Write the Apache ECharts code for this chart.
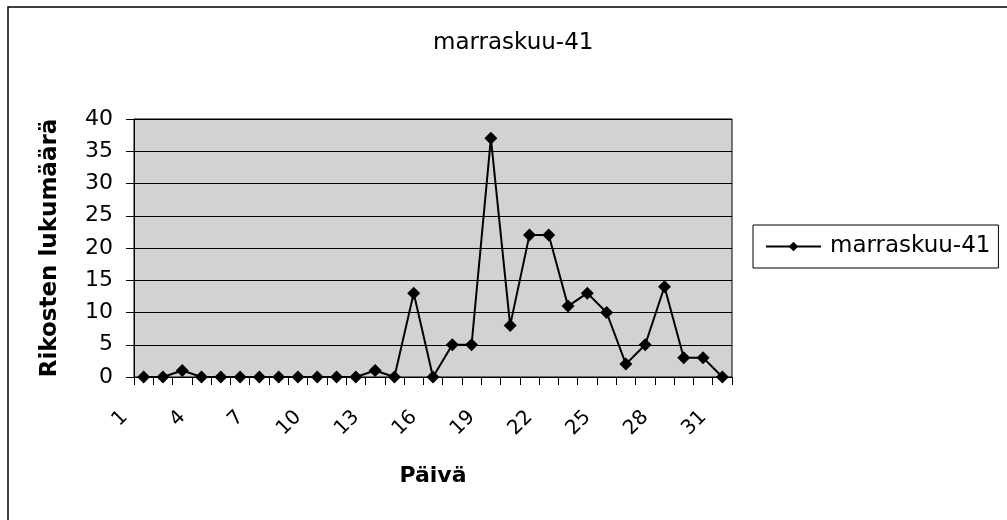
<!DOCTYPE html>
<html>
<head>
<meta charset="utf-8">
<script src="https://cdn.jsdelivr.net/npm/echarts@6/dist/echarts.min.js"></script>
<style>html,body{margin:0;padding:0;background:#fff;}#c{width:1007px;height:520px;}</style>
</head>
<body>
<div id="c"></div>
<script>
const days = ['1','2','3','4','5','6','7','8','9','10','11','12','13','14','15','16','17','18','19','20','21','22','23','24','25','26','27','28','29','30','31'];
const counts = [0,0,1,0,0,0,0,0,0,0,0,0,1,0,13,0,5,5,37,8,22,22,11,13,10,2,5,14,3,3,0];
const seriesName = 'marraskuu-41';
const chartTitle = 'marraskuu-41';
const xName = 'Päivä';
const yName = 'Rikosten lukumäärä';

const FF = 'DejaVu Sans';
const chart = echarts.init(document.getElementById('c'), null, {renderer: 'canvas'});
chart.setOption({
  backgroundColor: '#fff',
  animation: false,
  title: {
    text: chartTitle,
    left: 428, top: 27,
    textStyle: {fontFamily: FF, fontSize: 23, fontWeight: 'normal', color: '#000'}
  },
  graphic: [{
    type: 'rect', shape: {x: 8, y: 7, width: 1020, height: 530},
    style: {fill: null, stroke: '#000', lineWidth: 1.5}, silent: true
  }],
  legend: {
    left: 753, top: 225,
    orient: 'vertical',
    padding: [10, 8, 10, 12],
    borderColor: '#000', borderWidth: 1,
    itemWidth: 55, itemHeight: 12,
    textStyle: {fontFamily: FF, fontSize: 23, color: '#000', padding: [0, 0, 0, 4]},
    data: [seriesName]
  },
  grid: {
    left: 134, top: 119, right: 275, bottom: 143,
    show: true, backgroundColor: '#d2d2d2', borderColor: '#000', borderWidth: 1
  },
  xAxis: {
    type: 'category', data: days, boundaryGap: true,
    name: xName, nameLocation: 'middle', nameGap: 88,
    nameTextStyle: {fontFamily: FF, fontSize: 22, fontWeight: 'bold', color: '#000'},
    axisLine: {lineStyle: {color: '#000', width: 1}},
    axisTick: {show: true, interval: 0, length: 8, lineStyle: {color: '#000'}},
    axisLabel: {interval: 2, rotate: 45, margin: 18, padding: [0, 27, 0, 0],
      fontFamily: FF, fontSize: 20, color: '#000'},
    splitLine: {show: false}
  },
  yAxis: {
    type: 'value', min: 0, max: 40, interval: 5,
    name: yName, nameLocation: 'middle', nameGap: 72,
    nameTextStyle: {fontFamily: FF, fontSize: 23, fontWeight: 'bold', color: '#000'},
    axisLine: {show: true, lineStyle: {color: '#000', width: 1}},
    axisTick: {show: true, length: 8, lineStyle: {color: '#000'}},
    axisLabel: {margin: 21, fontFamily: FF, fontSize: 22, color: '#000'},
    splitLine: {show: true, lineStyle: {color: '#000', width: 1}}
  },
  series: [{
    name: seriesName, type: 'line', data: counts,
    symbol: 'diamond', symbolSize: 13, showAllSymbol: true,
    itemStyle: {color: '#000'},
    lineStyle: {color: '#000', width: 2}
  }]
});
</script>
</body>
</html>
